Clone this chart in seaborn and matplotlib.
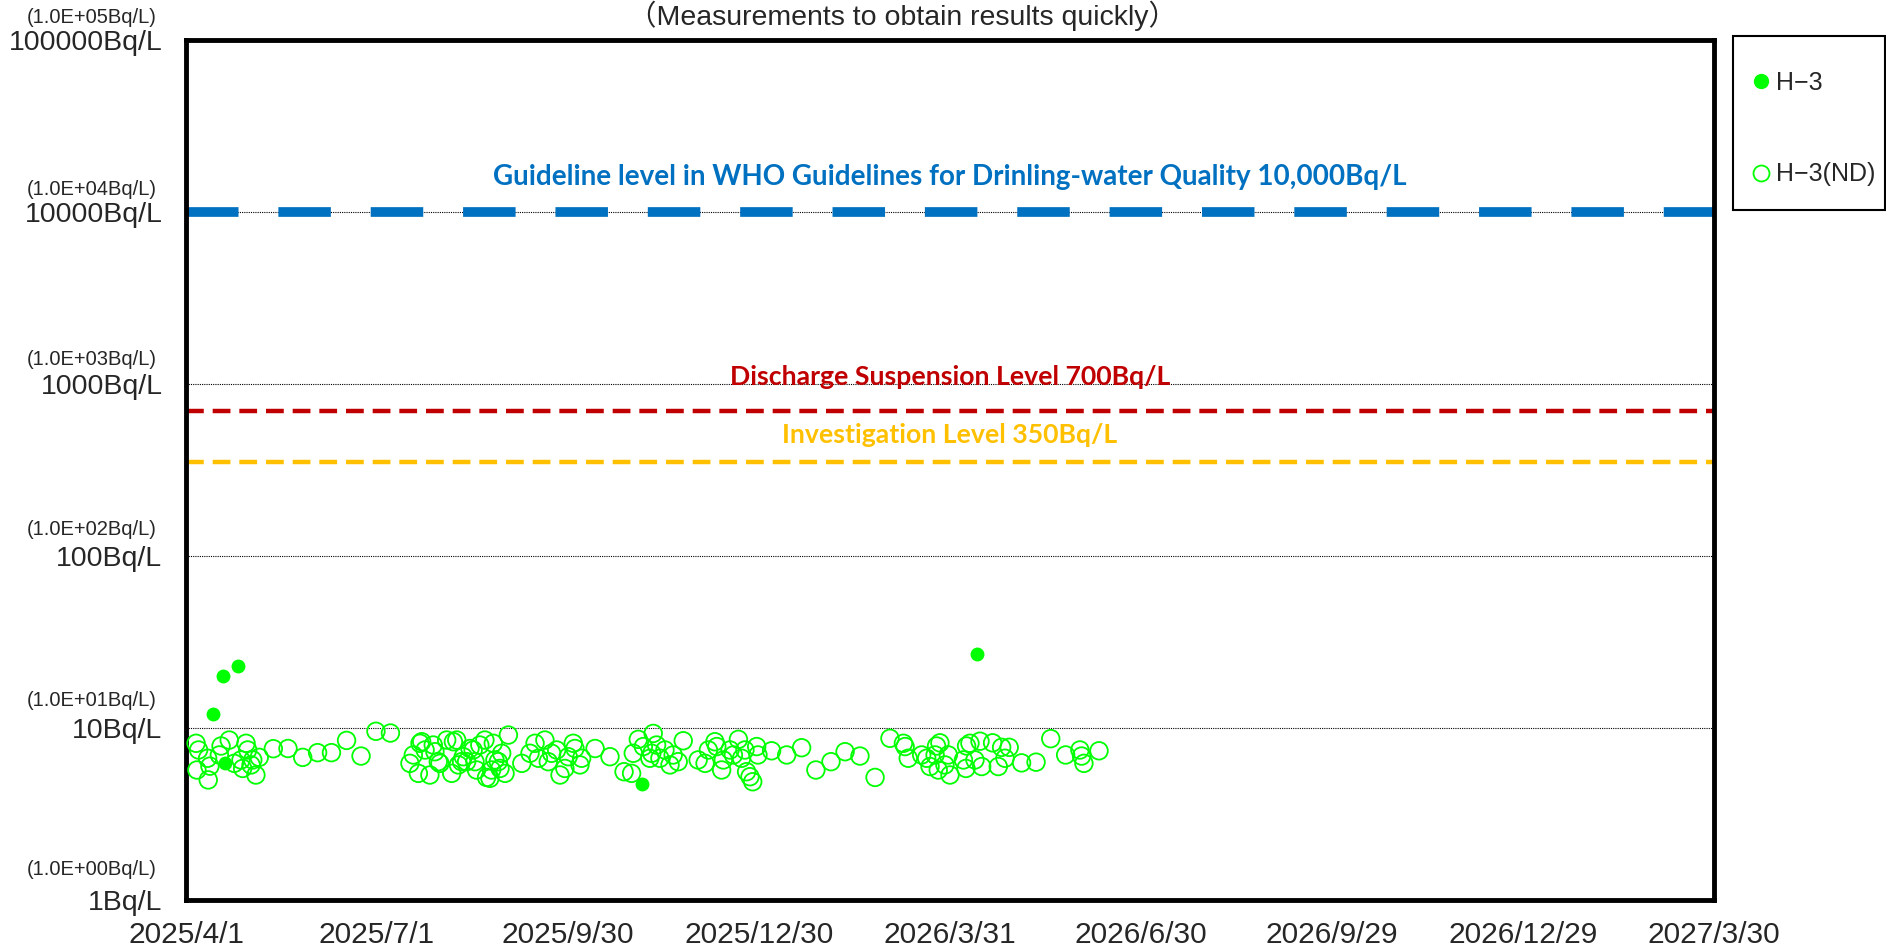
import numpy as np
import pandas as pd
import matplotlib.pyplot as plt
import matplotlib.patches as patches
from matplotlib.lines import Line2D
from matplotlib.ticker import NullLocator
import seaborn as sns

sns.set_style("white")
plt.rcParams['font.family'] = ['Liberation Sans', 'DejaVu Sans']

# start date of the x axis, days below are counted from here
start = pd.Timestamp("2025-04-01")
end = pd.Timestamp("2027-03-30")

# H-3 detected (days since 2025/4/1, Bq/L)
h3_days = [12.7, 17.6, 18.6, 24.6, 217.1, 377.0]
h3_vals = [12.0, 20.0, 6.3, 22.9, 4.7, 26.9]

# H-3 not detected (ND, plotted at detection limit)
nd_days = [4.8, 6.0, 5.2, 10.3, 10.6, 11.4, 16.7, 15.9, 20.6, 23.0, 28.6, 29.4, 27.0, 26.2,
           31.8, 31.0, 33.3, 34.9, 41.6, 48.6, 55.6, 62.7, 69.3, 76.5, 83.4, 90.5, 97.4,
           106.7, 108.3, 110.7, 111.5, 113.9, 116.2, 117.8, 121.0, 124.2, 126.6, 129.0, 129.8,
           132.1, 133.7, 136.8, 138.4, 140.0, 142.4, 143.2, 145.6, 147.2, 150.4, 152.0, 153.6,
           112.3, 118.6, 120.2, 127.4, 131.3, 135.3, 137.7, 144.8, 146.4, 148.8, 149.6,
           160.0, 163.9, 166.3, 167.9, 171.0, 172.6, 174.2, 176.6, 178.2, 180.5, 182.1, 184.5,
           185.3, 187.7, 188.5, 194.9, 202.0, 208.7, 212.3, 213.1, 215.5, 217.9, 221.0, 222.6,
           224.2, 221.9, 225.8, 228.2, 230.6, 232.1, 234.5, 236.9, 244.0, 247.3, 248.9, 252.0,
           252.9, 255.2, 256.0, 259.2, 260.8, 263.2, 264.7, 266.3, 267.1, 268.7, 270.0, 271.9,
           272.5, 279.0, 286.2, 293.3, 300.1, 307.3, 314.0, 321.1, 328.3, 335.4,
           341.8, 342.6, 344.1, 350.5, 352.9, 354.5, 356.9, 357.6, 359.2, 358.4, 361.6, 363.2,
           364.0, 370.4, 371.6, 371.9, 373.5, 375.9, 378.3, 379.1, 384.3, 387.0, 388.6, 390.2,
           392.2, 398.1, 405.0, 412.0, 419.1, 425.9, 426.7, 427.8, 435.0]
nd_vals = [8.15, 7.45, 5.7, 6.67, 4.99, 6.0, 7.86, 6.97, 8.51, 6.23, 8.15, 7.45, 5.82, 6.52,
           6.52, 6.1, 5.33, 6.75, 7.58, 7.6, 6.75, 7.19, 7.19, 8.47, 6.87, 9.57, 9.35,
           6.23, 6.97, 5.45, 8.15, 7.45, 5.33, 7.96, 6.23, 8.51, 5.45, 8.51, 6.1,
           6.81, 6.37, 7.45, 5.7, 7.96, 8.51, 5.16, 5.7, 6.52, 7.13, 5.45, 9.1,
           8.32, 7.28, 6.37, 8.32, 6.37, 7.6, 6.37, 5.1, 8.15, 6.37, 5.82,
           6.23, 7.13, 8.15, 6.67, 8.51, 6.37, 7.13, 7.45, 5.33, 5.82, 6.81, 8.15,
           7.6, 6.1, 6.67, 7.6, 6.81, 5.57, 5.45, 7.13, 8.59, 7.8, 6.67, 9.3,
           7.96, 7.13, 6.67, 7.45, 6.1, 6.97, 6.37, 8.43, 6.52, 6.23, 7.45, 8.32,
           7.8, 5.7, 6.52, 7.45, 6.97, 8.59, 6.67, 7.45, 5.57, 5.21, 4.87, 7.8,
           6.97, 7.37, 6.97, 7.68, 5.7, 6.37, 7.28, 6.87, 5.16, 8.71,
           8.15, 7.8, 6.67, 6.97, 6.67, 5.97, 6.97, 7.86, 8.2, 5.7, 6.1, 6.97,
           5.33, 6.52, 5.82, 7.86, 8.15, 6.52, 8.38, 5.97, 8.2, 5.97, 7.72, 6.67,
           7.72, 6.27, 6.33, 8.67, 6.97, 7.45, 6.87, 6.23, 7.37]

xtick_labels = ["2025/4/1", "2025/7/1", "2025/9/30", "2025/12/30", "2026/3/31",
                "2026/6/30", "2026/9/29", "2026/12/29", "2027/3/30"]
ytick_vals = [1, 10, 100, 1000, 10000, 100000]
ytick_main = ["1Bq/L", "10Bq/L", "100Bq/L", "1000Bq/L", "10000Bq/L", "100000Bq/L"]
ytick_sub = ["(1.0E+00Bq/L)", "(1.0E+01Bq/L)", "(1.0E+02Bq/L)",
             "(1.0E+03Bq/L)", "(1.0E+04Bq/L)", "(1.0E+05Bq/L)"]
sub_dy = [22, 20, 19, 17.3, 16.5, 16.5]  # points above each tick

# reference levels
who_level = 10000
stop_level = 700
check_level = 350
who_text = "Guideline level in WHO Guidelines for Drinling-water Quality 10,000Bq/L"
stop_text = "Discharge Suspension Level 700Bq/L"
check_text = "Investigation Level 350Bq/L"

green = "#00ff00"
blue = "#0070c0"
red = "#c00000"
orange = "#ffc000"

h3 = pd.DataFrame({"date": start + pd.to_timedelta(h3_days, unit="D"), "value": h3_vals})
nd = pd.DataFrame({"date": start + pd.to_timedelta(nd_days, unit="D"), "value": nd_vals})

fig = plt.figure(figsize=(18.86, 9.47), dpi=100)
ax = fig.add_axes([186 / 1886, 47 / 947, 1528 / 1886, 860 / 947])

# dotted grid at each decade
for v in [10, 100, 1000, 10000]:
    ax.axhline(v, color="black", lw=0.8, ls=(0, (1, 1)), zorder=1)

ax.axhline(who_level, color=blue, lw=7, ls=(0, (5.4, 4.1)), zorder=2)
ax.axhline(stop_level, color=red, lw=3.2, ls=(0, (4, 2)), zorder=2)
ax.axhline(check_level, color=orange, lw=3.2, ls=(0, (4, 2)), zorder=2)

sns.scatterplot(data=nd, x="date", y="value", ax=ax, s=160, facecolor="none",
                edgecolor=green, linewidth=1.3, zorder=3, legend=False)
sns.scatterplot(data=h3, x="date", y="value", ax=ax, s=100, color=green,
                edgecolor=green, linewidth=0, zorder=4, legend=False)

ax.set_yscale("log")
ax.set_ylim(1, 100000)
ax.set_xlim(start, end)
ax.yaxis.set_minor_locator(NullLocator())
ax.set_yticks(ytick_vals)
ax.set_yticklabels(ytick_main, fontsize=20.5)
ax.tick_params(axis="y", length=0, pad=17)
ax.set_xticks(pd.to_datetime(xtick_labels, format="%Y/%m/%d"))
ax.set_xticklabels(xtick_labels, fontsize=21.5)
ax.tick_params(axis="x", direction="in", length=6, width=0.8, pad=15)
ax.set_xlabel("")
ax.set_ylabel("")

for v, s, dy in zip(ytick_vals, ytick_sub, sub_dy):
    ax.annotate(s, xy=(0, v), xycoords=ax.get_yaxis_transform(), xytext=(-21, dy),
                textcoords="offset points", ha="right", va="center", fontsize=14.5,
                annotation_clip=False)

for sp in ax.spines.values():
    sp.set_visible(True)
    sp.set_color("black")
    sp.set_linewidth(3.5)

# level labels
for lvl, txt, col, dy, fs in [(who_level, who_text, blue, 25, 20),
                              (stop_level, stop_text, red, 24, 19.2),
                              (check_level, check_text, orange, 20, 19.2)]:
    ax.annotate(txt, xy=(0.5, lvl), xycoords=ax.get_yaxis_transform(), xytext=(0, dy),
                textcoords="offset points", ha="center", va="center", fontsize=fs,
                fontweight="bold", color=col, family=["Lato", "DejaVu Sans"])

fig.text(903 / 1886, 1 - 1 / 947, "（Measurements to obtain results quickly）",
         ha="center", va="top", fontsize=20.5,
         family=["Liberation Sans", "Noto Sans CJK JP"])

# legend box
fig.patches.append(patches.Rectangle((1733 / 1886, (947 - 210) / 947), 152 / 1886, 174 / 947,
                                     transform=fig.transFigure, fill=False, lw=1.5,
                                     edgecolor="black"))
handles = [Line2D([], [], ls="none", marker="o", markersize=10, color=green),
           Line2D([], [], ls="none", marker="o", markersize=11.5, markerfacecolor="none",
                  markeredgecolor=green, markeredgewidth=1.3)]
ax.legend(handles, ["H−3", "H−3(ND)"], loc="upper left",
          bbox_to_anchor=(1751 / 1886, (947 - 71) / 947), bbox_transform=fig.transFigure,
          frameon=False, fontsize=18, handlelength=0.8, handletextpad=0.2,
          labelspacing=2.7, borderpad=0, borderaxespad=0)

fig.savefig("out.png", dpi=100)
